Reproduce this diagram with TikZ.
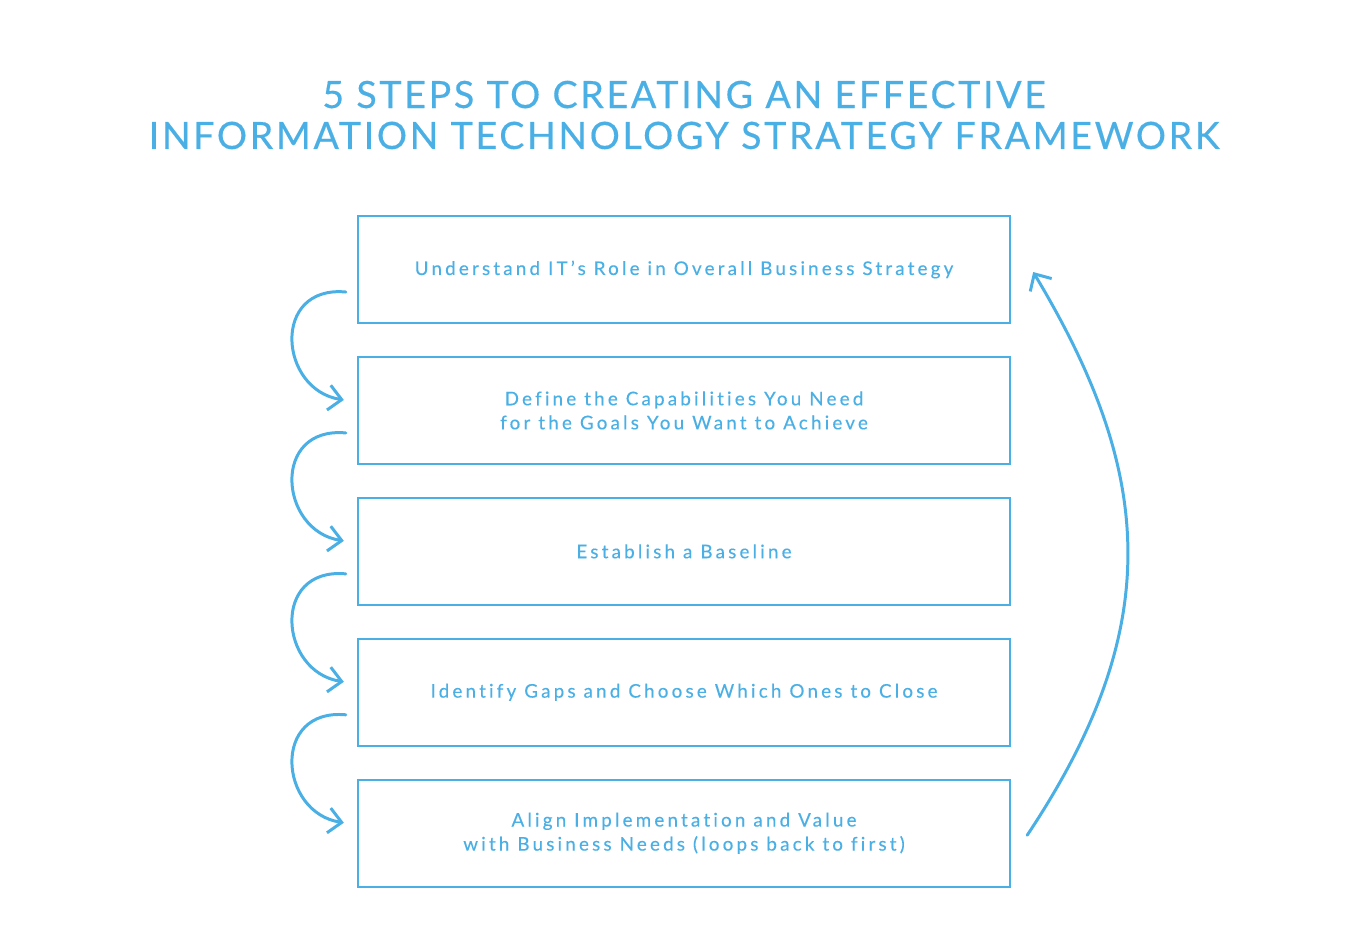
\documentclass[tikz,border=0pt]{standalone}
\usepackage{fontspec}
\setmainfont{Lato}
\newfontfamily\titlefont{Lato}[LetterSpace=7, FakeBold=0.4, RawFeature=-liga]
\newfontfamily\stepfont{Lato}[LetterSpace=17, FakeBold=0.3, RawFeature=-liga]
\usetikzlibrary{positioning,arrows.meta,calc}
\definecolor{itblue}{HTML}{4AAFE4}
\tikzset{
  stepbox/.style={rectangle, draw=itblue, line width=1.4pt, minimum width=13.04cm,
                  minimum height=2.14cm, inner sep=0pt, align=center, text=itblue,
                  font=\stepfont\fontsize{10.7}{13.7}\selectfont},
  headline/.style={align=center, text=itblue, font=\titlefont\fontsize{21.4}{23.3}\selectfont},
  loopflow/.style={-{Straight Barb[length=2.6mm,width=5mm]}, draw=itblue,
                   line width=1.7pt, line cap=round}
}
\begin{document}
\begin{tikzpicture}[x=0.02cm, y=-0.02cm, node distance=0.63cm]
\useasboundingbox (0,0) rectangle (1368,938);
\node[headline] (title) at (684,115) {5 STEPS TO CREATING AN EFFECTIVE\\INFORMATION TECHNOLOGY STRATEGY FRAMEWORK};
\node[stepbox] (s1) at (684,269.5) {Understand IT’s Role in Overall Business Strategy};
\node[stepbox, below=of s1] (s2) {Define the Capabilities You Need\\for the Goals You Want to Achieve};
\node[stepbox, below=of s2] (s3) {Establish a Baseline};
\node[stepbox, below=of s3] (s4) {Identify Gaps and Choose Which Ones to Close};
\node[stepbox, below=of s4] (s5) {Align Implementation and Value\\with Business Needs (loops back to first)};
% step to step
\foreach \i/\j in {1/2,2/3,3/4,4/5}
  \draw[loopflow] ($(s\i.west)+(-11,22.5)$) .. controls +(-75,-7) and +(-65,-10) .. ($(s\j.west)+(-13,-10.5)$);
% back to the first step
\draw[loopflow] ($(s5.east)+(16,2)$) .. controls +(140,-210) and +(120,200) .. ($(s1.east)+(22,2.5)$);
\end{tikzpicture}
\end{document}
